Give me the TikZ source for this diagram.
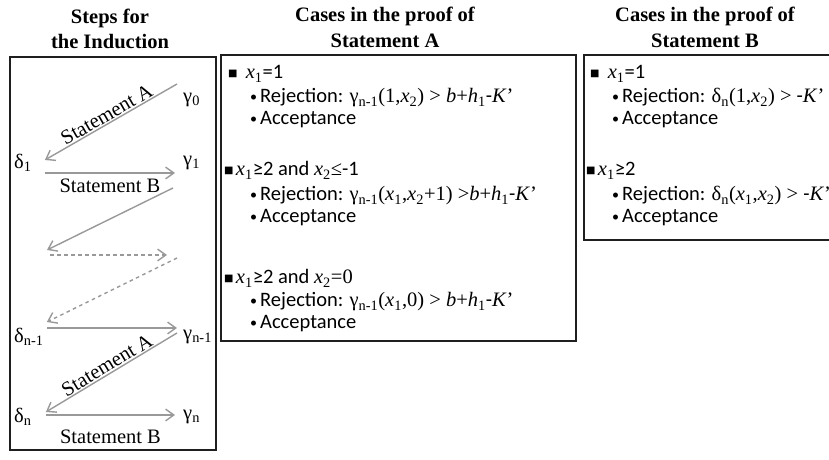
\documentclass[tikz,border=0pt]{standalone}
\usepackage{fontspec}
\setmainfont{Liberation Serif}
\newfontfamily\calib{Carlito}
\newfontfamily\dejavu{DejaVu Sans}
\usetikzlibrary{arrows.meta, positioning, calc}

\newcommand{\vx}[1]{\textit{x}\textsubscript{#1}}
\newcommand{\gm}[1]{γ\textsubscript{#1}}
\newcommand{\dl}[1]{δ\textsubscript{#1}}
\newcommand{\sqb}{\raisebox{2.5pt}{\dejavu\fontsize{8.5}{8.5}\selectfont ■}}
\newcommand{\dotb}{\raisebox{1.5pt}{\calib\fontsize{12}{12}\selectfont •}\hspace{2.5pt}}
\newcommand{\rej}{{\calib\dotb Rejection: }}
\newcommand{\acc}{{\calib\dotb Acceptance}}
\newcommand{\hyp}{{\calib -}}
\newcommand{\kprime}{\textit{K}’}

\tikzset{
  frame/.style={draw=black!88, line width=1.6pt},
  ind/.style={draw=black!40, line width=1.2pt, ->},
  title/.style={font=\fontsize{17.5}{22}\selectfont\bfseries, align=center},
  var/.style={anchor=west, inner sep=0pt},
  txt/.style={anchor=base west, inner sep=0pt},
}

\begin{document}
\begin{tikzpicture}[x=0.03cm, y=-0.03cm, font=\fontsize{17.5}{21}\selectfont,
  >={Straight Barb[length=7pt,width=10pt]}]
  \useasboundingbox (0,0) rectangle (829,460);

  % titles
  \node[title] (tInd) at (110,29) {Steps for\\the Induction};
  \node[title] (tA) at (385,27) {Cases in the proof of\\Statement A};
  \node[title] (tB) at (705,27) {Cases in the proof of\\Statement B};

  % frames
  \draw[frame] (10,57) rectangle (216,450);
  \draw[frame] (221,55) rectangle (576,341);
  \draw[frame] (840,55) -| (584,240) -- (840,240);

  % steps of the induction
  \node[var] (g0) at (183,100) {\gm{0}};
  \node[var] (d1) at (14,163) {\dl{1}};
  \node[var] (g1) at (183,163) {\gm{1}};
  \node[var] (dn1) at (14,337) {\dl{n-1}};
  \node[var] (gn1) at (183,337) {\gm{n-1}};
  \node[var] (dn) at (14,417) {\dl{n}};
  \node[var] (gn) at (183,417) {\gm{n}};
  \coordinate (m1) at (47,250);
  \coordinate (m2) at (50,255);
  \coordinate (m3) at (167,255);
  \coordinate (m4) at (177,258);

  \draw[ind] ($(g0.west)+(-6,-16)$) -- node[sloped, above, inner sep=1pt] {Statement A} ($(d1.east)+(13,-3)$);
  \draw[ind] ($(d1.east)+(13,10)$) -- node[below=1pt] {Statement B} ($(g1.west)+(-8,10)$);
  \draw[ind] ($(g1.west)+(-10,25)$) -- (m1);
  \draw[ind, dashed] (m2) -- (m3);
  \draw[ind, dashed] (m4) -- ($(dn1.east)+(3,-15)$);
  \draw[ind] ($(dn1.east)+(3,-9)$) -- ($(gn1.west)+(-6,-9)$);
  \draw[ind] ($(gn1.west)+(-6,-4)$) -- node[sloped, above, inner sep=1pt] {Statement A} ($(dn.east)+(14,-5)$);
  \draw[ind] ($(dn.east)+(14,-2)$) -- node[below=9pt] {Statement B} ($(gn.west)+(-8,-2)$);

  % statement A
  \node[txt] (a1) at (228,79) {\sqb\hspace{7pt}\vx{1}{\calib =1}};
  \node[txt] (a1r) at (250,103) {\rej\gm{n-1}(1,\vx{2}) > \textit{b}+\textit{h}\textsubscript{1}\hyp\kprime};
  \node[txt] (a1a) at (250,125) {\acc};
  \node[txt] (a2) at (224,176) {\sqb\hspace{2pt}\vx{1}{\calib ≥2 and }\vx{2}≤{\calib -1}};
  \node[txt] (a2r) at (250,201) {\rej\gm{n-1}(\vx{1},\vx{2}+1) >\textit{b}+\textit{h}\textsubscript{1}\hyp\kprime};
  \node[txt] (a2a) at (250,223) {\acc};
  \node[txt] (a3) at (224,284) {\sqb\hspace{2pt}\vx{1}{\calib ≥2 and }\vx{2}=0};
  \node[txt] (a3r) at (250,307) {\rej\gm{n-1}(\vx{1},0) > \textit{b}+\textit{h}\textsubscript{1}\hyp\kprime};
  \node[txt] (a3a) at (250,329) {\acc};

  % statement B
  \node[txt] (b1) at (590,79) {\sqb\hspace{7pt}\vx{1}{\calib =1}};
  \node[txt] (b1r) at (612,103) {\rej\dl{n}(1,\vx{2}) > \hyp\kprime};
  \node[txt] (b1a) at (612,125) {\acc};
  \node[txt] (b2) at (586,176) {\sqb\hspace{2pt}\vx{1}{\calib ≥2}};
  \node[txt] (b2r) at (612,201) {\rej\dl{n}(\vx{1},\vx{2}) > \hyp\kprime};
  \node[txt] (b2a) at (612,223) {\acc};
\end{tikzpicture}
\end{document}
